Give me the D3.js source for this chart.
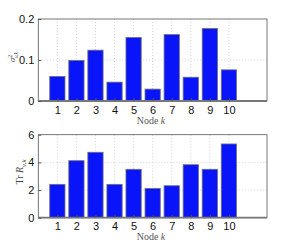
<!DOCTYPE html>
<html>
<head>
<meta charset="utf-8">
<script src="https://cdn.jsdelivr.net/npm/d3@7"></script>
<style>
  body { margin: 0; background: #fff; }
  svg text { font-family: "Liberation Sans", Arial, sans-serif; }
  .lbl { font-family: "Liberation Serif", "DejaVu Serif", serif; }
</style>
</head>
<body>
<div id="chart"></div>
<script>
// data
let nodes = [1, 2, 3, 4, 5, 6, 7, 8, 9, 10];
let sigmaVals = [0.060, 0.099, 0.124, 0.046, 0.155, 0.029, 0.162, 0.058, 0.177, 0.076];
let traceVals = [2.41, 4.12, 4.73, 2.41, 3.50, 2.12, 2.31, 3.83, 3.50, 5.33];
let sigmaTicks = [0, 0.1, 0.2];
let traceTicks = [0, 2, 4, 6];

let svg = d3.select("#chart").append("svg")
    .attr("width", 294)
    .attr("height", 245);

let x = d3.scaleLinear().domain([0, 12]).range([38.3, 267]);
let barW = x(0.8) - x(0);

function drawPanel(top, bottom, values, yMax, ticks, tickFmt) {
    let y = d3.scaleLinear().domain([0, yMax]).range([bottom, top]);
    let g = svg.append("g");

    // grid
    g.selectAll(".gx").data(nodes).enter().append("line")
        .attr("x1", d => x(d)).attr("x2", d => x(d))
        .attr("y1", top).attr("y2", bottom)
        .style("stroke", "#c8c8c8").style("stroke-width", 0.8)
        .style("stroke-dasharray", "1,2");
    g.selectAll(".gy").data(ticks.slice(1, -1)).enter().append("line")
        .attr("x1", x(0)).attr("x2", x(12))
        .attr("y1", d => y(d)).attr("y2", d => y(d))
        .style("stroke", "#c8c8c8").style("stroke-width", 0.8)
        .style("stroke-dasharray", "1,2");

    // bars
    g.selectAll(".bar").data(values).enter().append("rect")
        .attr("x", (d, i) => x(nodes[i]) - barW / 2)
        .attr("y", d => y(d))
        .attr("width", barW)
        .attr("height", d => bottom - y(d))
        .style("fill", "#0a14f8")
        .style("stroke", "#6e6e7a")
        .style("stroke-width", 0.8);

    // box
    g.append("rect")
        .attr("x", x(0)).attr("y", top)
        .attr("width", x(12) - x(0)).attr("height", bottom - top)
        .style("fill", "none").style("stroke", "#555").style("stroke-width", 0.8);
    g.append("line")
        .attr("x1", x(0)).attr("x2", x(12))
        .attr("y1", bottom).attr("y2", bottom)
        .style("stroke", "#777").style("stroke-width", 1.8);

    // axes
    let xAxis = d3.axisBottom(x).tickValues(nodes).tickSize(-3).tickPadding(5);
    let ax = g.append("g").attr("transform", `translate(0,${bottom})`).call(xAxis);
    let yAxis = d3.axisLeft(y).tickValues(ticks).tickSize(-3).tickPadding(4).tickFormat(tickFmt);
    let ay = g.append("g").attr("transform", `translate(${x(0)},0)`).call(yAxis);
    [ax, ay].forEach(a => {
        a.select(".domain").remove();
        a.selectAll(".tick line").style("stroke", "#555");
        a.selectAll(".tick text").style("font-size", "11px").style("fill", "#111")
            .style("font-family", "'Liberation Sans', Arial, sans-serif");
    });

    // x label
    svg.append("text").attr("class", "lbl")
        .attr("x", 151).attr("y", bottom + 22.5)
        .attr("text-anchor", "middle")
        .style("font-size", "10px").style("fill", "#555")
        .html("Node <tspan font-style='italic'>k</tspan>");
    return y;
}

drawPanel(19, 101, sigmaVals, 0.2, sigmaTicks, d3.format("~g"));
drawPanel(134.7, 217.7, traceVals, 6, traceTicks, d3.format("d"));

// y labels
svg.append("text").attr("class", "lbl")
    .attr("transform", "translate(15,57) rotate(-90)")
    .attr("text-anchor", "middle")
    .style("font-size", "9px").style("fill", "#444")
    .html("<tspan font-style='italic'>σ</tspan><tspan dy='-3.5' font-size='6px'>2</tspan><tspan dx='-3.5' dy='6' font-size='6px' font-style='italic'>v,k</tspan>");
svg.append("text").attr("class", "lbl")
    .attr("transform", "translate(23,172) rotate(-90)")
    .attr("text-anchor", "middle")
    .style("font-size", "10px").style("fill", "#444")
    .html("Tr <tspan font-style='italic'>R</tspan><tspan dy='2.5' font-size='7px' font-style='italic'>v,k</tspan>");
</script>
</body>
</html>
